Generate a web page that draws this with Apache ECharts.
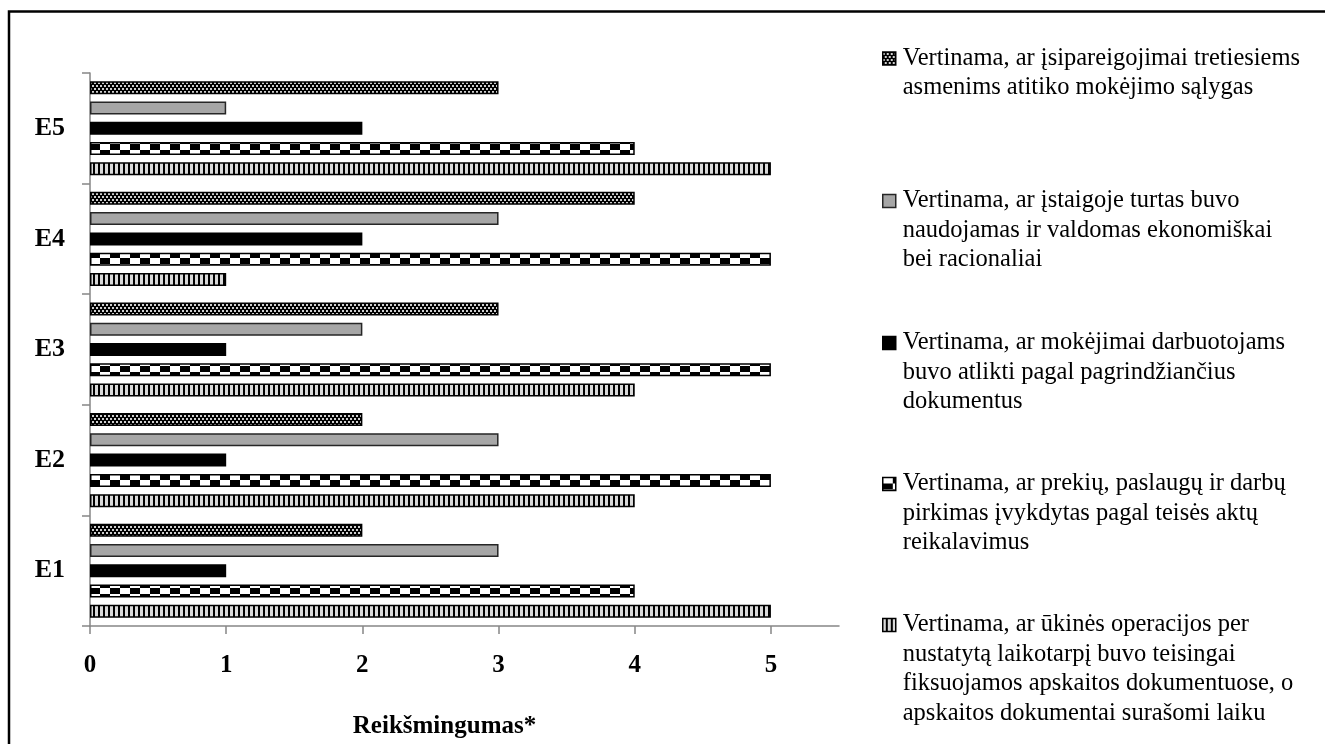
<!DOCTYPE html>
<html>
<head>
<meta charset="utf-8">
<script src="https://cdn.jsdelivr.net/npm/echarts@6/dist/echarts.min.js"></script>
<style>
html,body{margin:0;padding:0;background:#fff;}
#chart{width:1325px;height:744px;}
</style>
</head>
<body>
<div id="chart"></div>
<script>
// ---- data ----
const categories = ['E1', 'E2', 'E3', 'E4', 'E5'];
const xTickValues = [0, 1, 2, 3, 4, 5];
const axisTitle = 'Reikšmingumas*';

const legendLinesObligations = ['Vertinama, ar įsipareigojimai tretiesiems', 'asmenims atitiko mokėjimo sąlygas'];
const legendLinesAssets = ['Vertinama, ar įstaigoje turtas buvo', 'naudojamas ir valdomas ekonomiškai', 'bei racionaliai'];
const legendLinesPayments = ['Vertinama, ar mokėjimai darbuotojams', 'buvo atlikti pagal pagrindžiančius', 'dokumentus'];
const legendLinesProcurement = ['Vertinama, ar prekių, paslaugų ir darbų', 'pirkimas įvykdytas pagal teisės aktų', 'reikalavimus'];
const legendLinesOperations = ['Vertinama, ar ūkinės operacijos per', 'nustatytą laikotarpį buvo teisingai', 'fiksuojamos apskaitos dokumentuose, o', 'apskaitos dokumentai surašomi laiku'];

// values for E1..E5
const valuesObligations = [2, 2, 3, 4, 3];
const valuesAssets = [3, 3, 2, 3, 1];
const valuesPayments = [1, 1, 1, 2, 2];
const valuesProcurement = [4, 5, 5, 5, 4];
const valuesOperations = [5, 4, 4, 1, 5];

// ---- patterns ----
function makeTile(w, h, draw) {
  const c = document.createElement('canvas');
  c.width = w; c.height = h;
  draw(c.getContext('2d'));
  return c;
}
const dotsTile = makeTile(4, 6, function (ctx) {
  ctx.fillStyle = '#000'; ctx.fillRect(0, 0, 4, 6);
  ctx.fillStyle = '#cfcfcf';
  ctx.fillRect(0, 1, 2, 2);
  ctx.fillRect(2, 4, 2, 2);
});
const checkerTile = makeTile(20, 12, function (ctx) {
  ctx.fillStyle = '#000'; ctx.fillRect(0, 0, 20, 12);
  ctx.fillStyle = '#fff';
  ctx.fillRect(0, 0, 10, 6);
  ctx.fillRect(10, 6, 10, 6);
});
const stripesTile = makeTile(5, 4, function (ctx) {
  ctx.fillStyle = '#000'; ctx.fillRect(0, 0, 5, 4);
  ctx.fillStyle = '#d9d9d9';
  ctx.fillRect(0, 0, 3, 4);
});

const FONT = '"Liberation Serif", "Times New Roman", serif';
const LH = 29.5;

const seriesDefs = [
  { lines: legendLinesObligations, data: valuesObligations, color: { image: dotsTile, repeat: 'repeat' }, border: '#000', legendCenter: 58.5 },
  { lines: legendLinesAssets, data: valuesAssets, color: '#a6a6a6', border: '#262626', legendCenter: 201 },
  { lines: legendLinesPayments, data: valuesPayments, color: '#000', border: '#000', legendCenter: 343 },
  { lines: legendLinesProcurement, data: valuesProcurement, color: { image: checkerTile, repeat: 'repeat' }, border: '#000', legendCenter: 484 },
  { lines: legendLinesOperations, data: valuesOperations, color: { image: stripesTile, repeat: 'repeat' }, border: '#000', legendCenter: 625 }
];

const nameToLines = {};
seriesDefs.forEach(function (d) { nameToLines[d.lines.join(' ')] = d.lines; });

const series = seriesDefs.map(function (d) {
  return {
    name: d.lines.join(' '),
    type: 'bar',
    data: d.data,
    barWidth: 13,
    barGap: '56%',
    itemStyle: { color: d.color, borderColor: d.border, borderWidth: 1.5 },
    emphasis: { disabled: true },
    animation: false
  };
});

// Legend: icon sits beside the first text line. The text block is centred on
// the icon, so (n-1) empty lines are put in front of the n text lines.
const legends = seriesDefs.map(function (d) {
  const n = d.lines.length;
  return {
    data: [{ name: d.lines.join(' '), icon: 'rect' }],
    orient: 'vertical',
    left: 882,
    top: d.legendCenter - (2 * n - 1) * LH / 2,
    padding: 0,
    itemWidth: 13,
    itemHeight: 13,
    selectedMode: false,
    itemStyle: { borderColor: d.border, borderWidth: 1.5 },
    formatter: function (name) {
      const ls = nameToLines[name];
      let pre = '';
      for (let i = 1; i < ls.length; i++) pre += ' \n';
      return pre + ls.join('\n');
    },
    textStyle: {
      fontFamily: FONT,
      fontSize: 24.5,
      color: '#000',
      lineHeight: LH,
      padding: [0, 0, 0, 2]
    }
  };
});

const chart = echarts.init(document.getElementById('chart'), null, { renderer: 'canvas' });
chart.setOption({
  animation: false,
  backgroundColor: '#fff',
  grid: { left: 90, right: 486, top: 73, bottom: 101, containLabel: false },
  legend: legends,
  xAxis: {
    type: 'value',
    min: 0,
    max: 5.5,
    interval: 1,
    name: axisTitle,
    nameLocation: 'middle',
    nameGap: 88,
    nameTextStyle: { fontFamily: FONT, fontSize: 25, fontWeight: 'bold', color: '#000', padding: [0, 40, 0, 0] },
    axisLine: { show: true, lineStyle: { color: '#868686', width: 1.5 } },
    axisTick: { show: true, length: 8, inside: false, customValues: xTickValues, lineStyle: { color: '#868686', width: 1.5 } },
    axisLabel: { customValues: xTickValues, margin: 27, fontFamily: FONT, fontSize: 25, fontWeight: 'bold', color: '#000' },
    splitLine: { show: false }
  },
  yAxis: {
    type: 'category',
    data: categories,
    axisLine: { show: true, lineStyle: { color: '#868686', width: 1.5 } },
    axisTick: { show: true, length: 8, lineStyle: { color: '#868686', width: 1.5 } },
    axisLabel: { margin: 25, fontFamily: FONT, fontSize: 26, fontWeight: 'bold', color: '#000' },
    splitLine: { show: false }
  },
  graphic: [{
    type: 'rect',
    shape: { x: 9, y: 11.5, width: 1330, height: 760 },
    style: { fill: 'none', stroke: '#000', lineWidth: 2.5 },
    silent: true,
    z: 100
  }],
  series: series
});
</script>
</body>
</html>
